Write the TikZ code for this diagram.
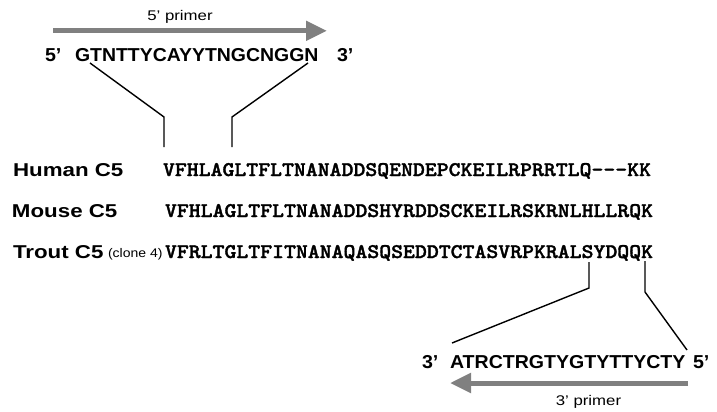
\documentclass[tikz,border=0pt]{standalone}
\usepackage{fontspec}
\setmainfont{Liberation Sans}
\newfontfamily\seqfont{lmmonolt10-bold}[Extension=.otf,FakeBold=1.5]
\usetikzlibrary{arrows.meta}
\definecolor{arrowgray}{RGB}{128,128,128}
\newcommand{\sxb}[2]{\scalebox{#1}[1]{#2}}
\begin{document}
\begin{tikzpicture}[x=1pt,y=-1pt,
  txt/.style={anchor=base west,inner sep=0pt,outer sep=0pt},
  primerseq/.style={txt,font=\fontsize{18.7}{20}\selectfont\bfseries},
  label/.style={txt,font=\fontsize{18.6}{20}\selectfont\bfseries},
  protseq/.style={txt,font=\fontsize{20.8}{22}\selectfont\seqfont},
  primername/.style={anchor=base,inner sep=0pt,font=\fontsize{14}{16}\selectfont},
  primerarrow/.style={draw=arrowgray,line width=5pt,-{Triangle[length=21pt,width=19pt]}},
  link/.style={draw=black,line width=1.4pt}]
\useasboundingbox (0,0) rectangle (717,412);
\fill[white] (0,0) rectangle (717,412);

% top primer
\coordinate (a1s) at (53,30.8);
\coordinate (a1e) at (327,30.8);
\draw[primerarrow] (a1s) -- (a1e);
\node[primername] (p5name) at (180,21) {\sxb{1.2}{5' primer}};
\node[primerseq] (t5) at (45,61.7) {\sxb{1.05}{5'}};
\node[primerseq] (tseq) at (75,61.7) {\sxb{1.04}{GTNTTYCAYYTNGCNGGN}};
\node[primerseq] (t3) at (337,61.7) {\sxb{1.05}{3'}};

% labels
\node[label] (hl) at (13,176) {\sxb{1.2}{Human C5}};
\node[label] (ml) at (12,217) {\sxb{1.2}{Mouse C5}};
\node[label] (tl) at (13,258) {\sxb{1.2}{Trout C5}};
\node[txt,font=\fontsize{12.5}{14}\selectfont] (cl) at (108,257) {\sxb{1.12}{(clone 4)}};

% protein sequences
\node[protseq] (hs) at (163,176) {\sxb{1.09}{VFHLAGLTFLTNANADDSQENDEPCKEILRPRRTLQ---KK}};
\node[protseq] (ms) at (165,217) {\sxb{1.09}{VFHLAGLTFLTNANADDSHYRDDSCKEILRSKRNLHLLRQK}};
\node[protseq] (ts) at (165,258) {\sxb{1.09}{VFRLTGLTFITNANAQASQSEDDTCTASVRPKRALSYDQQK}};

% top connectors
\coordinate (l1a) at (90,63);
\coordinate (l1b) at (164,117);
\coordinate (l1c) at (164,147);
\coordinate (r1a) at (308,63);
\coordinate (r1b) at (232,117);
\coordinate (r1c) at (232,147);
\draw[link] (l1a) -- (l1b) -- (l1c);
\draw[link] (r1a) -- (r1b) -- (r1c);

% bottom connectors
\coordinate (l2a) at (589,262);
\coordinate (l2b) at (589,288);
\coordinate (l2c) at (452,343);
\coordinate (r2a) at (645,261);
\coordinate (r2b) at (645,292);
\coordinate (r2c) at (687,350);
\draw[link] (l2a) -- (l2b) -- (l2c);
\draw[link] (r2a) -- (r2b) -- (r2c);

% bottom primer
\node[primerseq] (b3) at (422,368) {\sxb{1.05}{3'}};
\node[primerseq] (bseq) at (450,368) {\sxb{1.046}{ATRCTRGTYGTYTTYCTY}};
\node[primerseq] (b5) at (693,368) {\sxb{1.05}{5'}};
\coordinate (a2s) at (688,383);
\coordinate (a2e) at (450,383);
\draw[primerarrow] (a2s) -- (a2e);
\node[primername] (p3name) at (588.5,405) {\sxb{1.2}{3' primer}};
\end{tikzpicture}
\end{document}
